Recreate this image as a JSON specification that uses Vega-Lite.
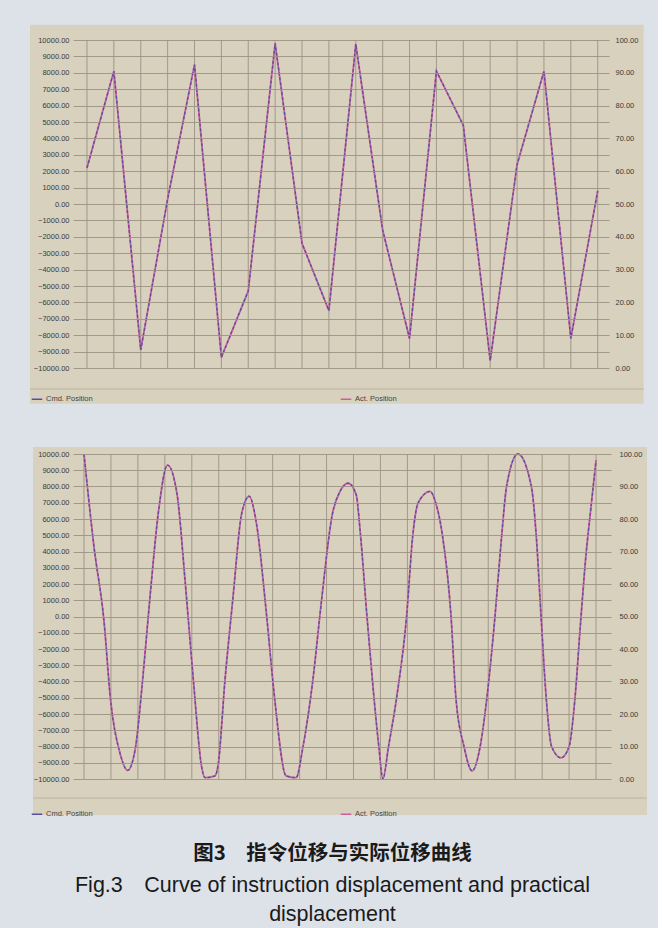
{
  "$schema": "https://vega.github.io/schema/vega-lite/v6.json",
  "background": "#dde2e9",
  "padding": {"left": 29, "top": 24, "right": 10, "bottom": 5},
  "datasets": {
    "top": [
      {"x": 1, "v": 2200}, {"x": 2, "v": 8100}, {"x": 3, "v": -8900}, {"x": 4, "v": 300},
      {"x": 5, "v": 8500}, {"x": 6, "v": -9350}, {"x": 7, "v": -5300}, {"x": 8, "v": 9800},
      {"x": 9, "v": -2400}, {"x": 10, "v": -6500}, {"x": 11, "v": 9750}, {"x": 12, "v": -1600},
      {"x": 13, "v": -8200}, {"x": 14, "v": 8100}, {"x": 15, "v": 4800}, {"x": 16, "v": -9550},
      {"x": 17, "v": 2400}, {"x": 18, "v": 8100}, {"x": 19, "v": -8200}, {"x": 20, "v": 800}
    ],
    "bottom": [
      {"x": 1.0, "v": 10000}, {"x": 1.37, "v": 4300}, {"x": 1.74, "v": -250}, {"x": 1.99, "v": -5200},
      {"x": 2.35, "v": -8500}, {"x": 2.62, "v": -9470}, {"x": 2.91, "v": -8070}, {"x": 3.15, "v": -4360},
      {"x": 3.46, "v": 1400}, {"x": 3.77, "v": 6540}, {"x": 4.1, "v": 9320}, {"x": 4.45, "v": 7570},
      {"x": 4.75, "v": 2220}, {"x": 5.06, "v": -3950}, {"x": 5.37, "v": -9300}, {"x": 5.49, "v": -9920},
      {"x": 5.86, "v": -9810}, {"x": 5.98, "v": -9100}, {"x": 6.23, "v": -3950}, {"x": 6.53, "v": 1190},
      {"x": 6.85, "v": 6330}, {"x": 7.13, "v": 7400}, {"x": 7.4, "v": 5720}, {"x": 7.77, "v": 160},
      {"x": 8.07, "v": -4980}, {"x": 8.5, "v": -9810}, {"x": 8.87, "v": -9920}, {"x": 9.12, "v": -8070},
      {"x": 9.49, "v": -3950}, {"x": 9.8, "v": 780}, {"x": 10.22, "v": 6330}, {"x": 10.5, "v": 7700},
      {"x": 10.8, "v": 8200}, {"x": 11.1, "v": 7500}, {"x": 11.25, "v": 5200}, {"x": 11.5, "v": 0},
      {"x": 11.76, "v": -5000}, {"x": 11.94, "v": -8000}, {"x": 12.09, "v": -10000}, {"x": 12.3, "v": -8000},
      {"x": 12.6, "v": -5000}, {"x": 12.97, "v": 0}, {"x": 13.2, "v": 5000}, {"x": 13.4, "v": 7000},
      {"x": 13.84, "v": 7700}, {"x": 14.05, "v": 7000}, {"x": 14.3, "v": 5000}, {"x": 14.62, "v": 0},
      {"x": 14.8, "v": -5000}, {"x": 15.1, "v": -8000}, {"x": 15.4, "v": -9500}, {"x": 15.7, "v": -8000},
      {"x": 15.95, "v": -5000}, {"x": 16.25, "v": 0}, {"x": 16.5, "v": 5000}, {"x": 16.68, "v": 8000},
      {"x": 17.1, "v": 10000}, {"x": 17.6, "v": 8000}, {"x": 17.78, "v": 5000}, {"x": 17.96, "v": 0},
      {"x": 18.15, "v": -5000}, {"x": 18.35, "v": -8000}, {"x": 18.7, "v": -8700}, {"x": 19.0, "v": -8000},
      {"x": 19.22, "v": -5000}, {"x": 19.42, "v": -500}, {"x": 19.6, "v": 3300}, {"x": 19.83, "v": 7000},
      {"x": 20.0, "v": 9600}
    ]
  },
  "title": {
    "text": "图3　指令位移与实际位移曲线",
    "subtitle": ["Fig.3\u2003Curve of instruction displacement and practical", "displacement"],
    "orient": "bottom",
    "anchor": "middle",
    "dx": -6,
    "offset": 26,
    "font": "Noto Sans CJK SC",
    "fontSize": 20.5,
    "fontWeight": "bold",
    "color": "#1a1a1a",
    "subtitleFont": "Liberation Sans",
    "subtitleFontSize": 21.5,
    "subtitleColor": "#1a1a1a",
    "subtitleLineHeight": 29,
    "subtitlePadding": 10
  },
  "spacing": 42,
  "resolve": {"scale": {"color": "independent"}, "legend": {"color": "independent"}},
  "vconcat": [
    {
      "width": 536,
      "height": 328,
      "layer": [
        {
          "data": {"values": [{}]},
          "mark": {"type": "rect", "fill": "#d7d1be"},
          "encoding": {
            "x": {"datum": -1.12, "type": "quantitative", "scale": {"domain": [0.48, 20.42], "nice": false, "zero": false}, "axis": null},
            "x2": {"datum": 21.71},
            "y": {"datum": 10933, "type": "quantitative", "scale": {"domain": [-10000, 10000], "nice": false, "zero": false}, "axis": null},
            "y2": {"datum": -12177}
          }
        },
        {
          "data": {"values": [{}]},
          "mark": {"type": "rule", "stroke": "#bdb4a2", "strokeWidth": 1},
          "encoding": {
            "x": {"datum": -1.12, "type": "quantitative", "scale": {"domain": [0.48, 20.42], "nice": false, "zero": false}, "axis": null},
            "x2": {"datum": 21.71},
            "y": {"datum": -11280, "type": "quantitative", "scale": {"domain": [-10000, 10000], "nice": false, "zero": false}, "axis": null}
          }
        },
        {
          "data": {"name": "top"},
          "mark": {"type": "rule", "stroke": "#9d9283", "strokeWidth": 0.9, "zindex": 1},
          "encoding": {
            "x": {"field": "x", "type": "quantitative", "scale": {"domain": [0.48, 20.42], "nice": false, "zero": false}, "axis": null}
          }
        },
        {
          "data": {"name": "top"},
          "mark": {"type": "line", "strokeWidth": 1.8, "zindex": 2},
          "encoding": {
            "x": {"field": "x", "type": "quantitative", "scale": {"domain": [0.48, 20.42], "nice": false, "zero": false},
              "axis": {"title": null, "values": [1, 2, 3, 4, 5, 6, 7, 8, 9, 10, 11, 12, 13, 14, 15, 16, 17, 18, 19, 20], "format": "d", "grid": false, "labelPadding": 6, "zindex": 1}},
            "y": {"field": "v", "type": "quantitative", "scale": {"domain": [-10000, 10000], "nice": false, "zero": false},
              "axis": {"orient": "right", "title": null, "grid": false, "values": [-10000, -8000, -6000, -4000, -2000, 0, 2000, 4000, 6000, 8000, 10000],
                "labelExpr": "format((datum.value + 10000) / 200, '.2f')", "labelPadding": 6, "zindex": 1}},
            "color": {"datum": "Act. Position", "type": "nominal",
              "scale": {"domain": ["Cmd. Position", "Act. Position"], "range": ["#55509e", "#cc5f9c"]},
              "legend": {"title": null, "orient": "none", "legendX": -42, "legendY": 353, "direction": "horizontal",
                "columnPadding": 244, "symbolType": "stroke", "symbolSize": 110, "symbolStrokeWidth": 1.5,
                "labelFontSize": 7.5, "labelColor": "#444444", "labelFont": "Liberation Sans", "labelOffset": 3}}
          }
        },
        {
          "data": {"name": "top"},
          "mark": {"type": "line", "strokeWidth": 1.3, "strokeDash": [3, 2], "zindex": 3},
          "encoding": {
            "x": {"field": "x", "type": "quantitative", "scale": {"domain": [0.48, 20.42], "nice": false, "zero": false},
              "axis": {"title": null, "values": [1, 2, 3, 4, 5, 6, 7, 8, 9, 10, 11, 12, 13, 14, 15, 16, 17, 18, 19, 20], "format": "d", "grid": false, "labelPadding": 6, "zindex": 1}},
            "y": {"field": "v", "type": "quantitative", "scale": {"domain": [-10000, 10000], "nice": false, "zero": false},
              "axis": {"orient": "left", "title": null, "grid": true, "format": ".2f",
                "values": [-10000, -9000, -8000, -7000, -6000, -5000, -4000, -3000, -2000, -1000, 0, 1000, 2000, 3000, 4000, 5000, 6000, 7000, 8000, 9000, 10000],
                "labelPadding": 4, "zindex": 1}},
            "color": {"datum": "Cmd. Position", "type": "nominal"}
          }
        }
      ],
      "resolve": {"axis": {"y": "independent"}}
    },
    {
      "width": 538,
      "height": 325,
      "layer": [
        {
          "data": {"values": [{}]},
          "mark": {"type": "rect", "fill": "#d7d1be"},
          "encoding": {
            "x": {"datum": -0.892, "type": "quantitative", "scale": {"domain": [0.592, 20.555], "nice": false, "zero": false}, "axis": null},
            "x2": {"datum": 21.89},
            "y": {"datum": 10431, "type": "quantitative", "scale": {"domain": [-10000, 10000], "nice": false, "zero": false}, "axis": null},
            "y2": {"datum": -12215}
          }
        },
        {
          "data": {"values": [{}]},
          "mark": {"type": "rule", "stroke": "#bdb4a2", "strokeWidth": 1},
          "encoding": {
            "x": {"datum": -0.892, "type": "quantitative", "scale": {"domain": [0.592, 20.555], "nice": false, "zero": false}, "axis": null},
            "x2": {"datum": 21.89},
            "y": {"datum": -11170, "type": "quantitative", "scale": {"domain": [-10000, 10000], "nice": false, "zero": false}, "axis": null}
          }
        },
        {
          "data": {"name": "top"},
          "mark": {"type": "rule", "stroke": "#9d9283", "strokeWidth": 0.9, "zindex": 1},
          "encoding": {
            "x": {"field": "x", "type": "quantitative", "scale": {"domain": [0.592, 20.555], "nice": false, "zero": false}, "axis": null}
          }
        },
        {
          "data": {"name": "bottom"},
          "mark": {"type": "line", "strokeWidth": 1.8, "interpolate": "monotone", "zindex": 2},
          "encoding": {
            "x": {"field": "x", "type": "quantitative", "scale": {"domain": [0.592, 20.555], "nice": false, "zero": false},
              "axis": {"title": null, "values": [1, 2, 3, 4, 5, 6, 7, 8, 9, 10, 11, 12, 13, 14, 15, 16, 17, 18, 19, 20], "format": "d", "grid": false, "labelPadding": 5, "zindex": 1}},
            "y": {"field": "v", "type": "quantitative", "scale": {"domain": [-10000, 10000], "nice": false, "zero": false},
              "axis": {"orient": "right", "title": null, "grid": false, "values": [-10000, -8000, -6000, -4000, -2000, 0, 2000, 4000, 6000, 8000, 10000],
                "labelExpr": "format((datum.value + 10000) / 200, '.2f')", "labelPadding": 8, "zindex": 1}},
            "color": {"datum": "Act. Position", "type": "nominal",
              "scale": {"domain": ["Cmd. Position", "Act. Position"], "range": ["#55509e", "#cc5f9c"]},
              "legend": {"title": null, "orient": "none", "legendX": -42, "legendY": 354, "direction": "horizontal",
                "columnPadding": 244, "symbolType": "stroke", "symbolSize": 110, "symbolStrokeWidth": 1.5,
                "labelFontSize": 7.5, "labelColor": "#444444", "labelFont": "Liberation Sans", "labelOffset": 3}}
          }
        },
        {
          "data": {"name": "bottom"},
          "mark": {"type": "line", "strokeWidth": 1.3, "strokeDash": [3, 2], "interpolate": "monotone", "zindex": 3},
          "encoding": {
            "x": {"field": "x", "type": "quantitative", "scale": {"domain": [0.592, 20.555], "nice": false, "zero": false},
              "axis": {"title": null, "values": [1, 2, 3, 4, 5, 6, 7, 8, 9, 10, 11, 12, 13, 14, 15, 16, 17, 18, 19, 20], "format": "d", "grid": false, "labelPadding": 5, "zindex": 1}},
            "y": {"field": "v", "type": "quantitative", "scale": {"domain": [-10000, 10000], "nice": false, "zero": false},
              "axis": {"orient": "left", "title": null, "grid": true, "format": ".2f",
                "values": [-10000, -9000, -8000, -7000, -6000, -5000, -4000, -3000, -2000, -1000, 0, 1000, 2000, 3000, 4000, 5000, 6000, 7000, 8000, 9000, 10000],
                "labelPadding": 4, "zindex": 1}},
            "color": {"datum": "Cmd. Position", "type": "nominal"}
          }
        }
      ],
      "resolve": {"axis": {"y": "independent"}}
    }
  ],
  "config": {
    "view": {"stroke": null},
    "font": "Liberation Sans",
    "axis": {
      "labelFont": "Liberation Sans",
      "labelFontSize": 7.5,
      "labelColor": "#3a3a3a",
      "ticks": false,
      "domain": false,
      "gridColor": "#9d9283",
      "gridWidth": 0.9,
      "gridOpacity": 1,
      "zindex": 1
    }
  }
}
